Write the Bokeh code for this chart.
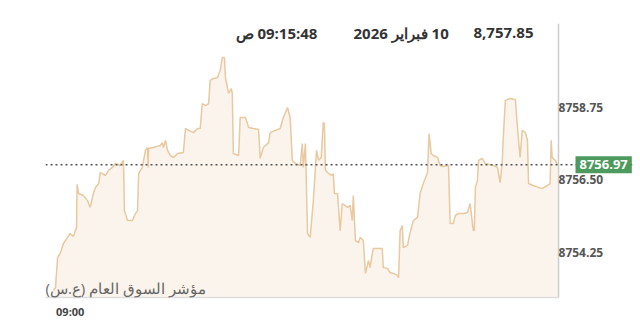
from bokeh.plotting import figure
from bokeh.models import Range1d, FixedTicker, Span, Label, NumeralTickFormatter
from bokeh.embed import file_html
from bokeh.resources import INLINE

# seconds after the first trade (first trade ~ 08:59:28)
t = [0, 4, 8, 13, 19, 27, 32, 38, 44, 45, 48, 57, 65, 70, 76, 80, 86, 89, 99, 105,
     112, 118, 127, 133, 134, 135, 141, 150, 156, 160, 162, 169, 175, 179, 180, 181, 190, 203, 207, 209,
     213, 217, 222, 228, 236, 247, 251, 257, 266, 274, 279, 283, 289, 295, 298, 304, 312, 317, 321, 325,
     327, 333, 338, 340, 342, 352, 355, 365, 371, 380, 390, 393, 399, 409, 412, 422, 431, 437, 445, 450,
     454, 460, 469, 473, 475, 479, 483, 488, 494, 500, 504, 509, 513, 515, 517, 523, 530, 532, 534, 540,
     545, 549, 559, 564, 568, 570, 574, 580, 583, 589, 593, 599, 602, 606, 608, 625, 627, 635, 640, 646,
     654, 656, 659, 663, 665, 673, 678, 684, 692, 697, 703, 711, 714, 718, 722, 730, 735, 741, 751, 754,
     760, 764, 770, 779, 787, 792, 798, 800, 802, 806, 808, 815, 821, 836, 844, 849, 853, 855, 859, 868,
     878, 882, 884, 887, 891, 897, 901, 903, 912, 922, 929, 939, 944, 946, 948, 954, 958]
vals = [8753.07, 8753.16, 8754.09, 8754.22, 8754.53, 8754.72, 8754.84, 8754.75, 8755.03, 8756.36,
        8756.08, 8756.02, 8755.86, 8755.65, 8756.08, 8756.27, 8756.39, 8756.73, 8756.64, 8756.80,
        8756.89, 8757.01, 8756.95, 8757.11, 8756.48, 8755.55, 8755.24, 8755.24, 8755.46, 8755.55,
        8756.70, 8756.89, 8757.42, 8757.51, 8756.89, 8757.48, 8757.51, 8757.57, 8757.66, 8757.51,
        8757.73, 8757.42, 8757.26, 8757.20, 8757.32, 8757.35, 8758.10, 8758.04, 8757.97, 8758.10,
        8758.10, 8758.87, 8758.81, 8758.87, 8759.59, 8759.65, 8759.68, 8759.90, 8760.30, 8760.30,
        8759.68, 8759.19, 8759.34, 8759.19, 8757.32, 8757.26, 8758.44, 8758.44, 8758.13, 8758.10,
        8758.07, 8757.17, 8757.51, 8757.66, 8757.97, 8758.04, 8758.10, 8758.44, 8758.75, 8758.44,
        8757.11, 8757.01, 8756.95, 8757.63, 8756.89, 8757.63, 8754.84, 8754.72, 8755.86, 8757.42,
        8757.11, 8757.20, 8758.29, 8758.25, 8756.80, 8756.70, 8756.64, 8756.70, 8756.08, 8756.08,
        8754.93, 8755.77, 8755.65, 8755.71, 8755.24, 8756.02, 8754.62, 8754.56, 8754.72, 8754.62,
        8753.60, 8754.00, 8753.78, 8754.22, 8754.37, 8754.37, 8753.78, 8753.75, 8753.63, 8753.60,
        8753.54, 8753.47, 8754.93, 8755.09, 8754.40, 8754.47, 8754.87, 8755.24, 8755.34, 8756.08,
        8756.39, 8756.73, 8757.94, 8757.32, 8757.26, 8757.20, 8756.95, 8756.92, 8756.95, 8755.15,
        8755.15, 8755.40, 8755.46, 8755.46, 8755.49, 8755.77, 8754.93, 8754.93, 8756.27, 8756.48,
        8757.11, 8757.17, 8757.01, 8756.95, 8756.89, 8756.42, 8757.04, 8757.82, 8758.97, 8759.03,
        8759.00, 8758.13, 8757.73, 8757.20, 8758.04, 8757.97, 8757.73, 8756.39, 8756.33, 8756.27,
        8756.24, 8756.33, 8756.39, 8757.73, 8757.20, 8757.11, 8756.97]

y_ticks = [8754.25, 8756.50, 8758.75]
x_tick = 32          # 09:00:00
x_tick_label = "09:00"
session_end = 960    # right edge of the price area
last_value = 8756.97
series_name = "مؤشر السوق العام (ع.س)"
hover_value = "8,757.85"
hover_date = "2026 فبراير\u200e 10"
hover_time = "ص\u200e 09:15:48"

FONT = "Open Sans"
x0 = -15
y0, y1 = 8752.853, 8761.357

p = figure(width=640, height=330, output_backend="svg", toolbar_location=None,
           x_range=Range1d(x0, 1100.6), y_range=Range1d(y0, y1),
           min_border_left=45, min_border_right=8, min_border_top=23, min_border_bottom=33,
           y_axis_location="right")
p.background_fill_color = "white"
p.border_fill_color = "white"
p.outline_line_color = None
p.grid.visible = False

p.varea(x=t, y1=y0, y2=vals, fill_color="#fbf4ec")
p.line(x=t, y=vals, line_color="#e8c9a0", line_width=1.5)

p.add_layout(Span(location=last_value, dimension="width", line_color="#555555",
                  line_dash="2 3", line_width=1.5))

ya = p.yaxis[0]
ya.fixed_location = session_end
ya.ticker = FixedTicker(ticks=y_ticks)
ya.formatter = NumeralTickFormatter(format="0.00")
ya.axis_line_color = "#cccccc"
ya.axis_line_width = 1.5
ya.major_tick_line_color = None
ya.minor_tick_line_color = None
ya.major_tick_out = 0
ya.major_tick_in = 0
ya.major_label_text_font = FONT
ya.major_label_text_font_size = "12px"
ya.major_label_text_font_style = "bold"
ya.major_label_text_color = "#555555"
ya.major_label_standoff = 0

xa = p.xaxis[0]
xa.bounds = (x0, session_end)
xa.ticker = FixedTicker(ticks=[x_tick])
xa.major_label_overrides = {x_tick: x_tick_label}
xa.axis_line_color = "#dddddd"
xa.axis_line_width = 1.5
xa.major_tick_line_color = None
xa.minor_tick_line_color = None
xa.major_tick_out = 0
xa.major_tick_in = 0
xa.major_label_standoff = 6
xa.major_label_text_font = FONT
xa.major_label_text_font_size = "11px"
xa.major_label_text_font_style = "bold"
xa.major_label_text_color = "#444444"

p.add_layout(Label(x=0, y=0, x_units="screen", y_units="screen", text=series_name + "\u200f",
                   text_font=FONT, text_font_size="15px",
                   text_color="#666666", text_baseline="bottom", text_align="left"))

for txt, xx in [(hover_time, 190), (hover_date, 308), (hover_value, 428)]:
    p.add_layout(Label(x=xx, y=265, x_units="screen", y_units="screen", text=txt,
                       text_font=FONT, text_font_size="15px", text_font_style="bold",
                       text_color="#333333", text_baseline="middle", text_align="left"))

p.add_layout(Label(x=530, y=last_value, x_units="screen", y_units="data", text=f"{last_value:.2f}",
                   text_font=FONT, text_font_size="13px", text_font_style="bold",
                   text_color="white", text_baseline="middle", text_align="left",
                   background_fill_color="#4c9a5e", padding=4))

open("out.html", "w").write(file_html(p, INLINE))
